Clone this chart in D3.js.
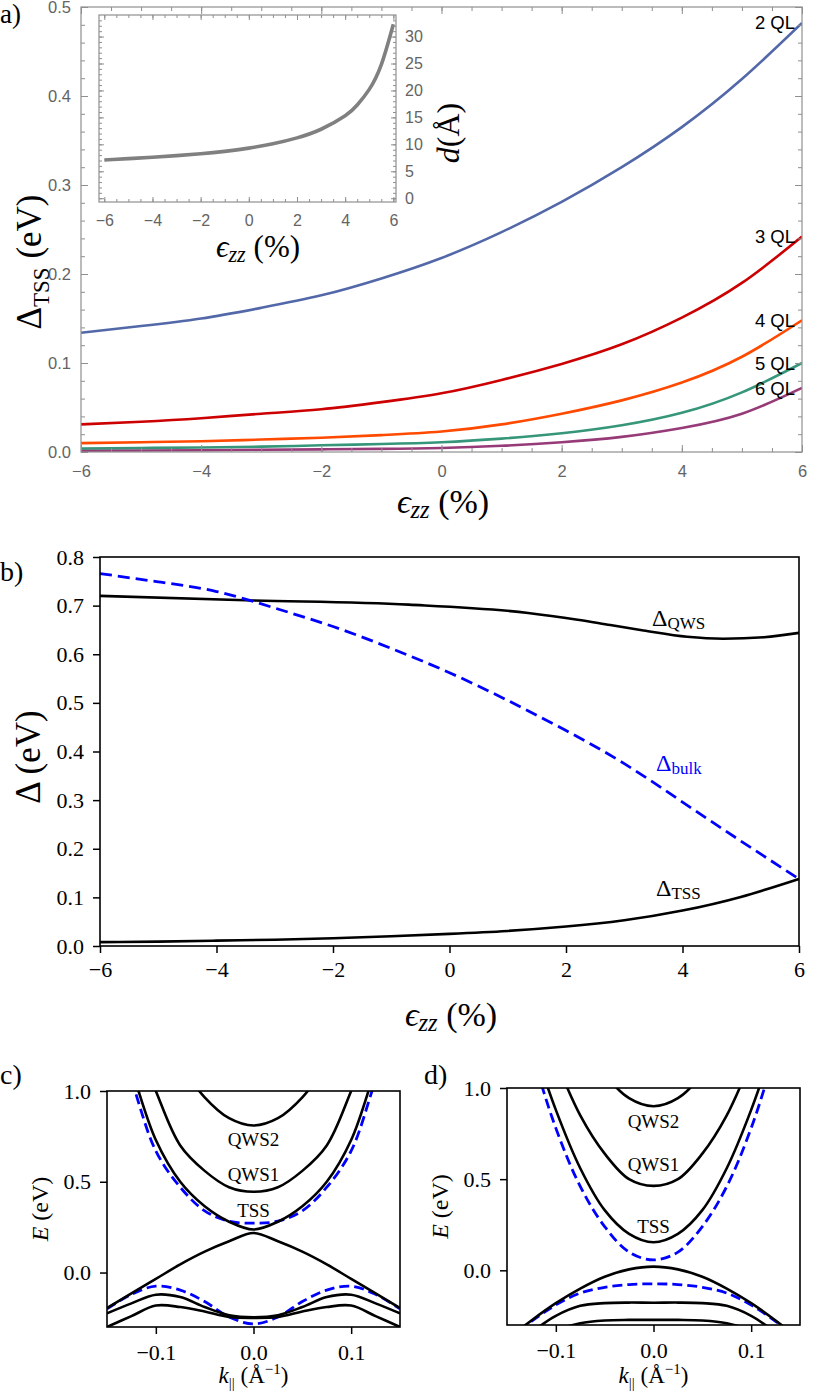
<!DOCTYPE html>
<html>
<head>
<meta charset="utf-8">
<script src="https://cdn.jsdelivr.net/npm/d3@7"></script>
<style>
  body { margin: 0; background: #fff; }
</style>
</head>
<body>
<div id="fig"></div>
<script>
// ---- panel a: TSS gap vs strain, one curve per film thickness
const STRAIN = [-6, -5, -4, -3, -2, -1, 0, 1, 2, 3, 4, 5, 6];
const GAP_2QL = [0.134, 0.1415, 0.150, 0.162, 0.176, 0.195, 0.218, 0.247, 0.281, 0.320, 0.365, 0.419, 0.482];
const GAP_3QL = [0.031, 0.034, 0.038, 0.043, 0.048, 0.056, 0.066, 0.081, 0.099, 0.121, 0.151, 0.190, 0.242];
const GAP_4QL = [0.010, 0.011, 0.012, 0.014, 0.016, 0.019, 0.023, 0.031, 0.043, 0.058, 0.078, 0.107, 0.148];
const GAP_5QL = [0.004, 0.0045, 0.005, 0.006, 0.0075, 0.009, 0.011, 0.015, 0.021, 0.030, 0.044, 0.067, 0.100];
const GAP_6QL = [0.0015, 0.0017, 0.002, 0.0025, 0.003, 0.0035, 0.0045, 0.007, 0.011, 0.017, 0.027, 0.043, 0.072];
const QL_LABELS = ['2 QL', '3 QL', '4 QL', '5 QL', '6 QL'];
const QL_COLORS = ['#5268a8', '#cc0000', '#ff4a00', '#36967a', '#963a78'];
const A_XTICKS = [-6, -4, -2, 0, 2, 4, 6];
const A_YTICKS = [0, 0.1, 0.2, 0.3, 0.4, 0.5];

// inset of panel a: layer distance d vs strain
const INSET_STRAIN = [-6, -5, -4, -3, -2, -1, 0, 1, 2, 3, 4, 4.5, 5, 5.5, 6];
const INSET_D = [7.1, 7.35, 7.6, 7.9, 8.25, 8.7, 9.3, 10.1, 11.2, 12.8, 15.3, 17.3, 20.2, 24.8, 32.3];
const INSET_YTICKS = [0, 5, 10, 15, 20, 25, 30];

// ---- panel b: gaps vs strain
const B_STRAIN_QWS = [-6, -3.5, -0.7, 1.35, 2.2, 2.76, 3.33, 4.08, 4.7, 5.4, 6];
const B_QWS = [0.720, 0.711, 0.702, 0.685, 0.671, 0.660, 0.649, 0.636, 0.632, 0.635, 0.644];
const B_BULK = [0.766, 0.749, 0.729, 0.695, 0.657, 0.612, 0.562, 0.505, 0.443, 0.375, 0.296, 0.216, 0.138];
const B_TSS = [0.008, 0.009, 0.011, 0.013, 0.016, 0.020, 0.025, 0.031, 0.040, 0.053, 0.073, 0.101, 0.138];
const B_XTICKS = [-6, -4, -2, 0, 2, 4, 6];
const B_YTICKS = [0, 0.1, 0.2, 0.3, 0.4, 0.5, 0.6, 0.7, 0.8];

// ---- panels c, d: band structures E(k)
const K = [-0.15, -0.125, -0.1, -0.075, -0.05, -0.025, 0, 0.025, 0.05, 0.075, 0.1, 0.125, 0.15];
const C_QWS2 = [2.0, 1.7, 1.4, 1.15, 0.965, 0.85, 0.81, 0.85, 0.965, 1.15, 1.4, 1.7, 2.0];
const C_QWS1 = [1.7, 1.35, 1.0, 0.70, 0.56, 0.47, 0.445, 0.47, 0.56, 0.70, 1.0, 1.35, 1.7];
const C_TSS_UP = [1.5, 1.12, 0.73, 0.50, 0.365, 0.28, 0.237, 0.28, 0.365, 0.50, 0.73, 1.12, 1.5];
const C_TSS_DN = [-0.196, -0.115, -0.035, 0.045, 0.115, 0.172, 0.218, 0.172, 0.115, 0.045, -0.035, -0.115, -0.196];
const C_BAND_A = [-0.225, -0.17, -0.122, -0.135, -0.19, -0.235, -0.246, -0.235, -0.19, -0.135, -0.122, -0.17, -0.225];
const C_BAND_B = [-0.30, -0.24, -0.182, -0.19, -0.215, -0.245, -0.25, -0.245, -0.215, -0.19, -0.182, -0.24, -0.30];
const C_BULK_UP = [1.45, 1.06, 0.67, 0.47, 0.34, 0.283, 0.272, 0.283, 0.34, 0.47, 0.67, 1.06, 1.45];
const C_BULK_DN = [-0.20, -0.12, -0.075, -0.097, -0.16, -0.245, -0.283, -0.245, -0.16, -0.097, -0.075, -0.12, -0.20];
const C_LABELS = [['QWS2', 0.695], ['QWS1', 0.504], ['TSS', 0.306]];

const D_QWS2 = [2.2, 1.85, 1.55, 1.3, 1.077, 0.944, 0.90, 0.944, 1.077, 1.3, 1.55, 1.85, 2.2];
const D_QWS1 = [1.9, 1.5, 1.15, 0.85, 0.64, 0.50, 0.463, 0.50, 0.64, 0.85, 1.15, 1.5, 1.9];
const D_TSS_UP = [1.7, 1.27, 0.88, 0.56, 0.33, 0.20, 0.154, 0.20, 0.33, 0.56, 0.88, 1.27, 1.7];
const D_TSS_DN = [-0.38, -0.275, -0.18, -0.10, -0.035, 0.005, 0.02, 0.005, -0.035, -0.10, -0.18, -0.275, -0.38];
const D_BAND_2 = [-0.45, -0.34, -0.25, -0.195, -0.18, -0.177, -0.178, -0.177, -0.18, -0.195, -0.25, -0.34, -0.45];
const D_BAND_3 = [-0.5, -0.4, -0.33, -0.29, -0.275, -0.272, -0.272, -0.272, -0.275, -0.29, -0.33, -0.4, -0.5];
const D_BULK_UP = [1.65, 1.2, 0.78, 0.46, 0.24, 0.10, 0.057, 0.10, 0.24, 0.46, 0.78, 1.2, 1.65];
const D_BULK_DN = [-0.38, -0.28, -0.19, -0.125, -0.093, -0.078, -0.074, -0.078, -0.093, -0.125, -0.19, -0.28, -0.38];
const D_LABELS = [['QWS2', 0.782], ['QWS1', 0.546], ['TSS', 0.205]];

const K_XTICKS = [-0.1, 0, 0.1];
const E_YTICKS = [0, 0.5, 1.0];

const SERIF = '"Liberation Serif", "DejaVu Serif", serif';
const SANS = '"Liberation Sans", Arial, sans-serif';
const MMA_FRAME = '#8f8f8f';
const MMA_TEXT = '#646464';

const svg = d3.select('#fig').append('svg')
    .attr('width', 829).attr('height', 1391)
    .style('display', 'block');

let clipId = 0;
function clipTo(g, L, T, R, B) {
    const id = 'clip' + (clipId++);
    g.append('clipPath').attr('id', id)
        .append('rect').attr('x', L).attr('y', T).attr('width', R - L).attr('height', B - T);
    return g.append('g').attr('clip-path', `url(#${id})`);
}

// text with sub/superscript pieces: [text, size, dy, italic]
function mathText(g, x, y, parts, opts = {}) {
    const t = g.append('text')
        .attr('x', x).attr('y', y)
        .attr('text-anchor', opts.anchor || 'middle')
        .attr('fill', opts.fill || '#000')
        .style('font-family', SERIF);
    if (opts.rotate) t.attr('transform', `rotate(-90, ${x}, ${y})`);
    parts.forEach(p => {
        t.append('tspan')
            .attr('dy', p[2] || 0)
            .style('font-size', p[1] + 'px')
            .style('font-style', p[3] ? 'italic' : 'normal')
            .text(p[0]);
    });
    return t;
}

// Mathematica-style framed axis: inward ticks on one side
function mmaSide(g, axisFn, scale, pos, major, minor, majLen, minLen, fmt, pad, size) {
    const vertical = (axisFn === d3.axisLeft || axisFn === d3.axisRight);
    const tr = vertical ? `translate(${pos},0)` : `translate(0,${pos})`;
    const m = g.append('g').attr('transform', tr)
        .call(axisFn(scale).tickValues(minor).tickSize(-minLen).tickFormat(''));
    m.select('.domain').remove();
    m.selectAll('line').attr('stroke', MMA_FRAME);
    const a = g.append('g').attr('transform', tr)
        .call(axisFn(scale).tickValues(major).tickSize(-majLen).tickPadding(pad)
            .tickFormat(fmt || (() => '')));
    a.select('.domain').remove();
    a.selectAll('line').attr('stroke', MMA_FRAME);
    a.selectAll('text').attr('fill', MMA_TEXT)
        .style('font-family', SANS).style('font-size', size + 'px');
}

// matplotlib-style axes: black frame, outward ticks left/bottom
function mplAxes(g, x, y, xt, yt, fmtX, fmtY, padX) {
    const [L, R] = x.range();
    const [B, T] = y.range();
    const ax = g.append('g').attr('transform', `translate(0,${B})`)
        .call(d3.axisBottom(x).tickValues(xt).tickSize(7).tickPadding(padX).tickFormat(fmtX));
    const ay = g.append('g').attr('transform', `translate(${L},0)`)
        .call(d3.axisLeft(y).tickValues(yt).tickSize(7).tickPadding(9).tickFormat(fmtY));
    [ax, ay].forEach(a => {
        a.select('.domain').remove();
        a.selectAll('line').attr('stroke', '#000').attr('stroke-width', 1.5);
        a.selectAll('text').attr('fill', '#000')
            .style('font-family', SERIF).style('font-size', '22px');
    });
    g.append('rect').attr('x', L).attr('y', T).attr('width', R - L).attr('height', B - T)
        .attr('fill', 'none').attr('stroke', '#000').attr('stroke-width', 1.6);
}

function strainLabel(g, x, y, size) {
    mathText(g, x, y, [['ϵ', size, 0, true], ['zz', size * 0.72, size * 0.16, true],
        ['  (%)', size, -size * 0.16, false]]);
}

/* ---------------- panel a ---------------- */
(function panelA() {
    const L = 81, T = 7, R = 802, B = 452;
    const x = d3.scaleLinear().domain([-6, 6]).range([L, R]);
    const y = d3.scaleLinear().domain([0, 0.5]).range([B, T]);
    const g = svg.append('g');

    const series = [GAP_2QL, GAP_3QL, GAP_4QL, GAP_5QL, GAP_6QL];
    const line = d3.line().x(d => x(d[0])).y(d => y(d[1])).curve(d3.curveNatural);
    const plot = clipTo(g, L, T, R, B);
    series.slice().reverse().forEach((vals, ri) => {
        const i = series.length - 1 - ri;
        plot.append('path')
            .datum(STRAIN.map((e, j) => [e, vals[j]]))
            .attr('d', line)
            .attr('fill', 'none')
            .attr('stroke', QL_COLORS[i])
            .attr('stroke-width', 2.6);
    });

    g.append('rect').attr('x', L).attr('y', T).attr('width', R - L).attr('height', B - T)
        .attr('fill', 'none').attr('stroke', MMA_FRAME).attr('stroke-width', 1.2);
    const xMinor = d3.range(-6, 6.001, 0.5);
    const yMinor = d3.range(0, 0.5001, 0.02);
    mmaSide(g, d3.axisBottom, x, B, A_XTICKS, xMinor, 7, 4, d3.format('d'), 13, 16.5);
    mmaSide(g, d3.axisTop, x, T, A_XTICKS, xMinor, 7, 4, null, 3, 16.5);
    mmaSide(g, d3.axisLeft, y, L, A_YTICKS, yMinor, 7, 4, d3.format('.1f'), 10, 16.5);
    mmaSide(g, d3.axisRight, y, R, A_YTICKS, yMinor, 7, 4, null, 3, 16.5);

    // curve labels at the right end
    series.forEach((vals, i) => {
        const yPos = [29, 243, 327, 370, 395][i];
        g.append('text')
            .attr('x', 795).attr('y', yPos)
            .attr('text-anchor', 'end')
            .style('font-family', SANS).style('font-size', '18.5px')
            .attr('fill', '#000')
            .text(QL_LABELS[i]);
    });

    mathText(g, 41, 262, [['Δ', 35, 0], ['TSS', 23, 8], [' (eV)', 35, -8]], { rotate: true });
    strainLabel(g, 443, 513, 34);

    // inset
    const iL = 99, iT = 15, iR = 396, iB = 202;
    const ix = d3.scaleLinear().domain([-6.22, 6.11]).range([iL, iR]);
    const iy = d3.scaleLinear().domain([-0.7, 34]).range([iB, iT]);
    const ig = g.append('g');
    ig.append('rect').attr('x', iL).attr('y', iT).attr('width', iR - iL).attr('height', iB - iT)
        .attr('fill', '#fff').attr('stroke', MMA_FRAME).attr('stroke-width', 1.2);
    ig.append('path')
        .datum(INSET_STRAIN.map((e, j) => [e, INSET_D[j]]))
        .attr('d', d3.line().x(d => ix(d[0])).y(d => iy(d[1])).curve(d3.curveNatural))
        .attr('fill', 'none').attr('stroke', '#808080').attr('stroke-width', 3.6);
    const ixMinor = d3.range(-6, 6.001, 0.5);
    const iyMinor = d3.range(0, 34, 1);
    mmaSide(ig, d3.axisBottom, ix, iB, A_XTICKS, ixMinor, 5, 3, d3.format('d'), 13, 16);
    mmaSide(ig, d3.axisTop, ix, iT, A_XTICKS, ixMinor, 5, 3, null, 3, 16);
    mmaSide(ig, d3.axisRight, iy, iR, INSET_YTICKS, iyMinor, 5, 3, d3.format('d'), 9, 16);
    mmaSide(ig, d3.axisLeft, iy, iL, INSET_YTICKS, iyMinor, 5, 3, null, 3, 16);
    strainLabel(ig, 258, 257, 31);
    mathText(ig, 459, 133, [['d', 32, 0, true], ['(Å)', 32, 0]], { rotate: true });

    mathText(g, 0, 23, [['a)', 27, 0]], { anchor: 'start' });
})();

/* ---------------- panel b ---------------- */
(function panelB() {
    const L = 100, T = 557, R = 799, B = 946;
    const x = d3.scaleLinear().domain([-6, 6]).range([L, R]);
    const y = d3.scaleLinear().domain([0, 0.8]).range([B, T]);
    const g = svg.append('g');
    const plot = clipTo(g, L - 2, T, R + 2, B);
    const kinked = d3.line().x(d => x(d[0])).y(d => y(d[1])).curve(d3.curveMonotoneX);
    const smooth = d3.line().x(d => x(d[0])).y(d => y(d[1])).curve(d3.curveNatural);

    plot.append('path').datum(B_STRAIN_QWS.map((e, i) => [e, B_QWS[i]]))
        .attr('d', kinked).attr('fill', 'none').attr('stroke', '#000').attr('stroke-width', 2.6);
    plot.append('path').datum(STRAIN.map((e, i) => [e, B_TSS[i]]))
        .attr('d', smooth).attr('fill', 'none').attr('stroke', '#000').attr('stroke-width', 2.6);
    plot.append('path').datum(STRAIN.map((e, i) => [e, B_BULK[i]]))
        .attr('d', smooth).attr('fill', 'none').attr('stroke', '#0000ff').attr('stroke-width', 2.8)
        .attr('stroke-dasharray', '12,6');

    mplAxes(g, x, y, B_XTICKS, B_YTICKS, d3.format('d'), d3.format('.1f'), 8);

    mathText(g, 652, 626, [['Δ', 24, 0], ['QWS', 17, 3]], { anchor: 'start' });
    mathText(g, 656, 771, [['Δ', 24, 0], ['bulk', 17, 3]], { anchor: 'start', fill: '#0000ff' });
    mathText(g, 656, 896, [['Δ', 24, 0], ['TSS', 17, 3]], { anchor: 'start' });

    mathText(g, 40, 757, [['Δ', 35, 0], [' (eV)', 35, 0]], { rotate: true });
    strainLabel(g, 451, 1026, 34);
    mathText(g, 0, 581, [['b)', 28, 0]], { anchor: 'start' });
})();

/* ---------------- panels c, d ---------------- */
function bandPanel(L, T, R, B, bands, bulk, labels, tag, tagX, tagY) {
    const x = d3.scaleLinear().domain([-0.15, 0.15]).range([L, R]);
    const y = d3.scaleLinear().domain([-0.3, 1.0]).range([B, T]);
    const g = svg.append('g');
    const plot = clipTo(g, L, T, R, B);
    const line = d3.line().x(d => x(d[0])).y(d => y(d[1])).curve(d3.curveCatmullRom.alpha(0.5));

    bulk.forEach(vals => {
        plot.append('path').datum(K.map((k, i) => [k, vals[i]]))
            .attr('d', line).attr('fill', 'none')
            .attr('stroke', '#0000ff').attr('stroke-width', 2.8)
            .attr('stroke-dasharray', '10,5');
    });
    bands.forEach(vals => {
        plot.append('path').datum(K.map((k, i) => [k, vals[i]]))
            .attr('d', line).attr('fill', 'none')
            .attr('stroke', '#000').attr('stroke-width', 2.6);
    });

    labels.forEach(([txt, e]) => {
        g.append('text')
            .attr('x', x(0)).attr('y', y(e))
            .attr('text-anchor', 'middle')
            .style('font-family', SERIF).style('font-size', '19px')
            .attr('fill', '#000')
            .text(txt);
    });

    mplAxes(g, x, y, K_XTICKS, E_YTICKS, d3.format('.1f'), d3.format('.1f'), 10);

    const cx = (L + R) / 2;
    mathText(g, cx, 1383, [['k', 23, 0, true], ['||', 15, 5], [' (Å', 23, -5], ['−1', 15, -9], [')', 23, 9]]);
    mathText(g, L - 59, (T + B) / 2, [['E', 24, 0, true], [' (eV)', 24, 0]], { rotate: true });
    mathText(g, tagX, tagY, [[tag, 28, 0]], { anchor: 'start' });
}

bandPanel(107, 1091, 400, 1327,
    [C_QWS2, C_QWS1, C_TSS_UP, C_TSS_DN, C_BAND_A, C_BAND_B],
    [C_BULK_UP, C_BULK_DN], C_LABELS, 'c)', 0, 1084);
bandPanel(507, 1088, 800, 1325,
    [D_QWS2, D_QWS1, D_TSS_UP, D_TSS_DN, D_BAND_2, D_BAND_3],
    [D_BULK_UP, D_BULK_DN], D_LABELS, 'd)', 424, 1084);
</script>
</body>
</html>
